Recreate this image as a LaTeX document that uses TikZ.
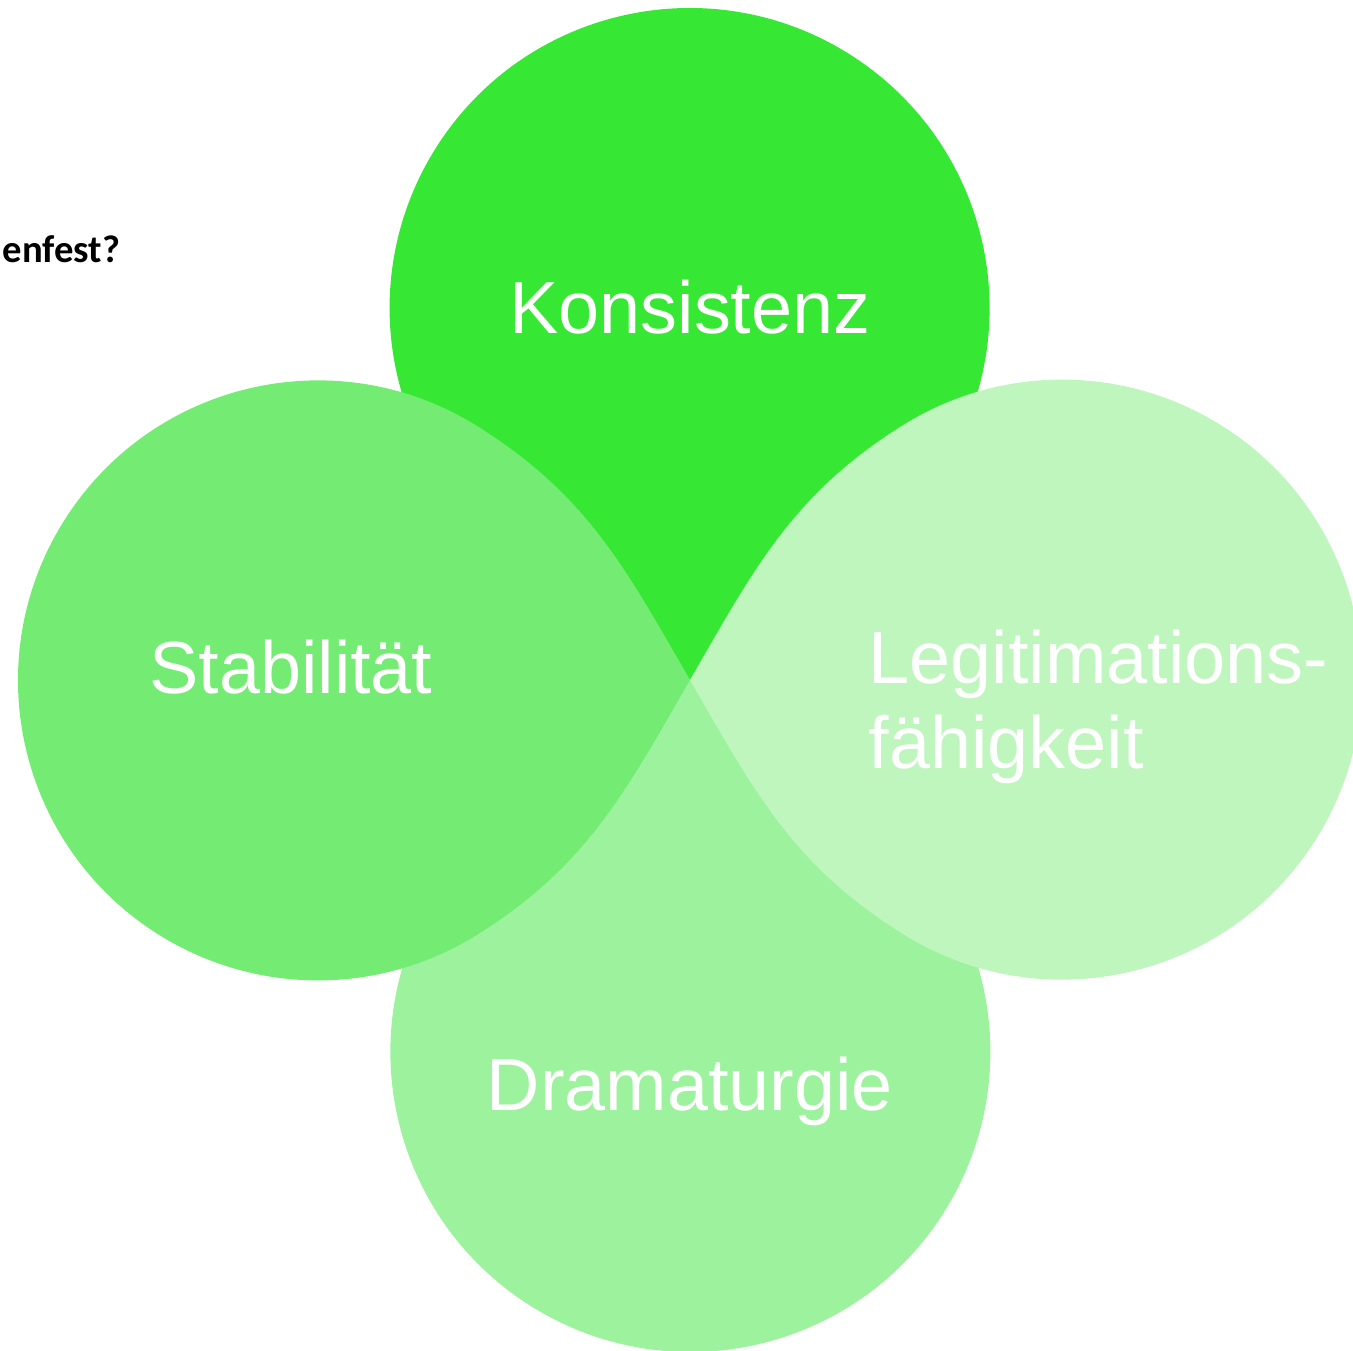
\documentclass[tikz,border=0pt]{standalone}
\usepackage{fontspec}
\setmainfont{Liberation Sans}
\newfontfamily\notefont{Carlito}
\definecolor{konsgreen}{RGB}{54,232,52}
\definecolor{stabgreen}{RGB}{116,236,116}
\definecolor{dramgreen}{RGB}{157,242,157}
\definecolor{legitgreen}{RGB}{190,246,190}
\tikzset{
  label/.style={white, inner sep=0pt, font=\fontsize{21}{24}\selectfont}
}
\begin{document}
\begin{tikzpicture}
        \useasboundingbox (-6.90,-6.70) rectangle (6.63,6.80);

        % Petali: alto, basso, sinistra, destra
        \foreach \ang/\col in {-90/konsgreen, 90/dramgreen, 0/stabgreen, 180/legitgreen}
        \fill[\col, rotate=\ang] (0,0) to[out=120,in=-32] (-2.13,2.54)
            arc[start angle=58, end angle=302, radius=3]
            to[out=32,in=-120] (0,0);

        % Testi
        \node[label, anchor=base] (kons) at (0,3.47) {Konsistenz};
        \node[label, anchor=base] (stab) at (-3.99,-0.13) {Stabilität};
        \node[label, anchor=base west, align=left] (legit) at (1.78,-0.88) {Legitimations-\\fähigkeit};
        \node[label, anchor=base] (dram) at (0,-4.30) {Dramaturgie};

        % Testo tagliato a sinistra
        \node[anchor=base west, inner sep=0pt, font=\notefont\bfseries\fontsize{11}{12}\selectfont] (note) at (-6.88,4.18) {enfest?};
    \end{tikzpicture}
\end{document}
